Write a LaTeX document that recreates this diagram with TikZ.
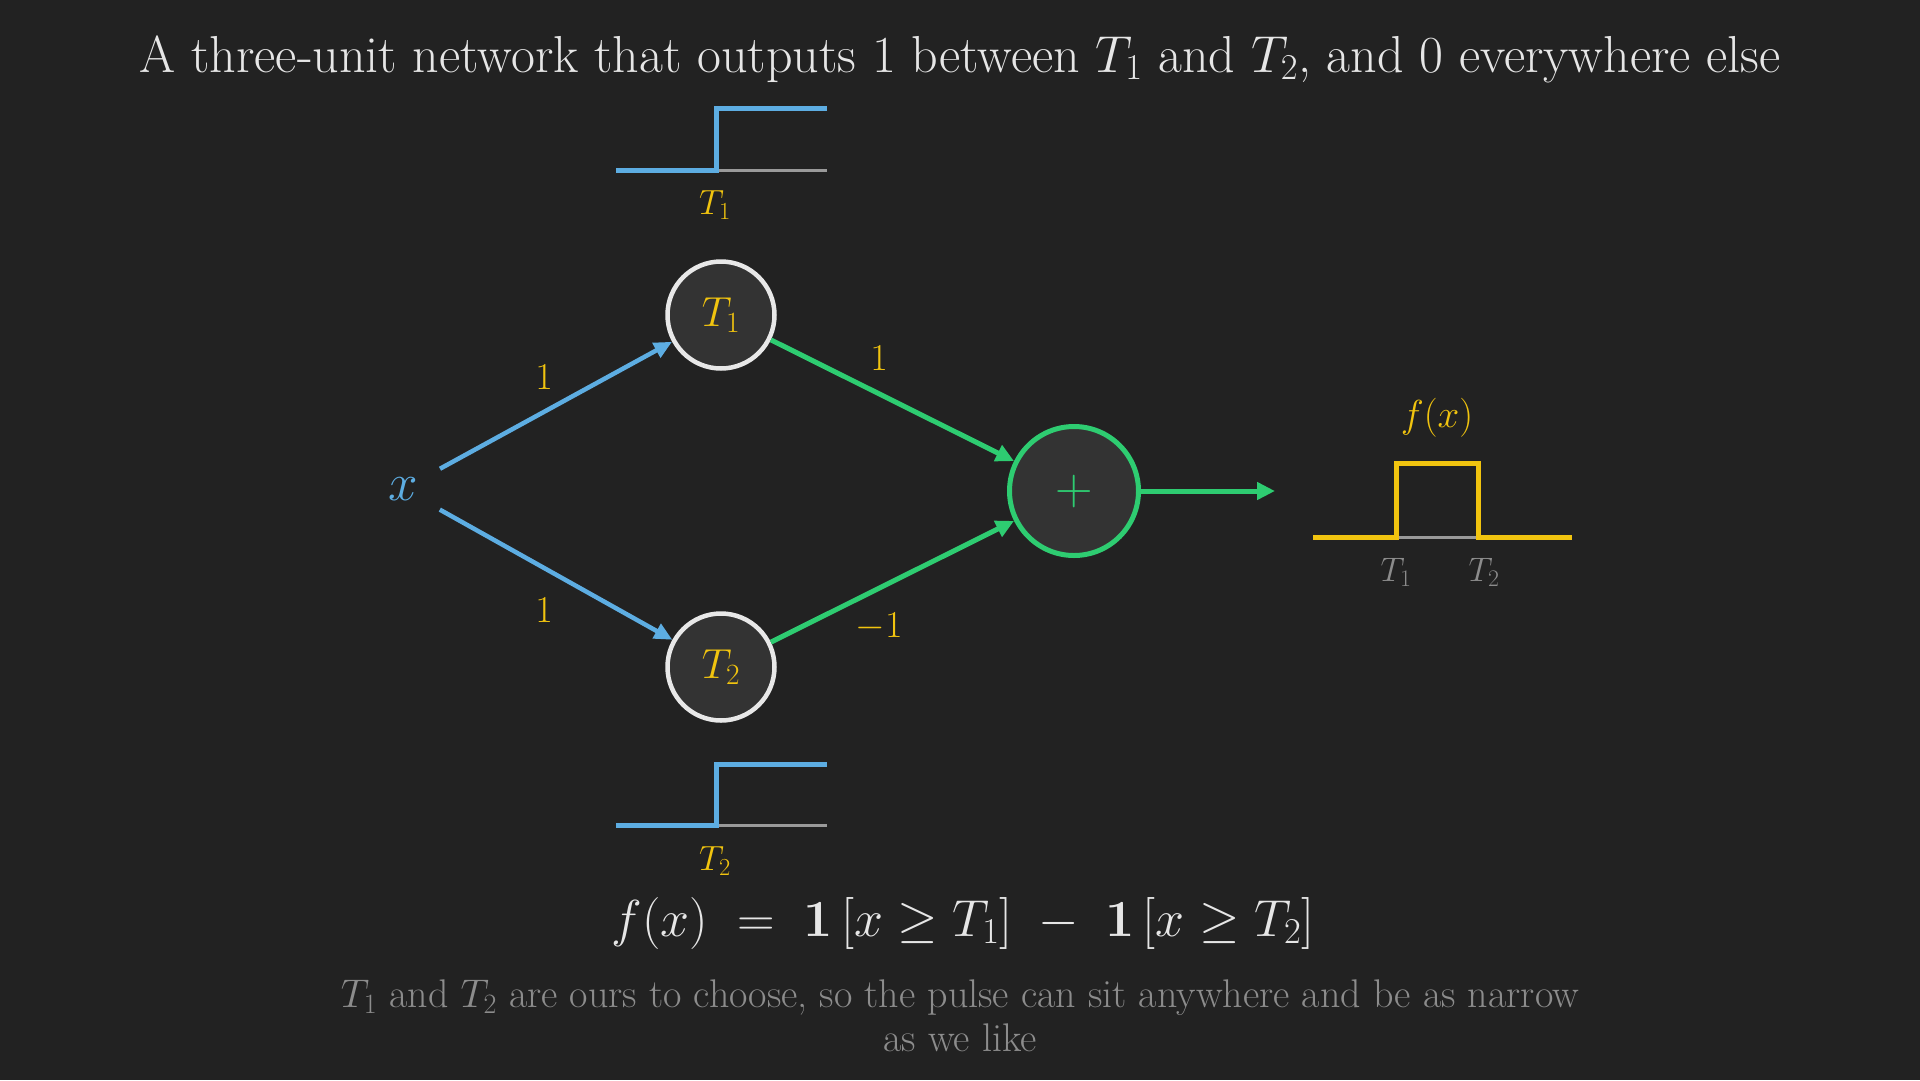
\RequirePackage{fix-cm}
\documentclass[tikz,border=0pt]{standalone}
\usetikzlibrary{arrows.meta}
\definecolor{bg}{HTML}{222222}
\definecolor{nodefill}{HTML}{333333}
\definecolor{cblue}{HTML}{5DADE2}
\definecolor{cgreen}{HTML}{2ECC71}
\definecolor{cyellow}{HTML}{F1C40F}
\definecolor{cwhite}{HTML}{E8E8E8}
\definecolor{cgray}{HTML}{8C8C8C}
\definecolor{cline}{HTML}{9A9A9A}
\definecolor{ctext}{HTML}{E6E6E6}
\tikzset{
  neuron/.style={circle, draw=cwhite, fill=nodefill, line width=4.5pt, minimum size=107pt, inner sep=0pt, text=cyellow, font=\fontsize{42}{50}\selectfont},
  sumnode/.style={circle, draw=cgreen, fill=nodefill, line width=5pt, minimum size=129pt, inner sep=0pt, text=cgreen, font=\fontsize{52}{60}\selectfont},
  bluearrow/.style={draw=cblue, line width=4.5pt, -{Triangle[length=18pt,width=16pt]}},
  greenarrow/.style={draw=cgreen, line width=5pt, -{Triangle[length=18pt,width=17pt]}},
  wlabel/.style={text=cyellow, font=\fontsize{38}{45}\selectfont},
  plotlbl/.style={text=cyellow, font=\fontsize{35}{42}\selectfont},
  graylbl/.style={text=cgray, font=\fontsize{34}{40}\selectfont},
  stepline/.style={line width=5pt, line join=miter},
  baseline/.style={draw=cline, line width=3pt},
}
\begin{document}
\begin{tikzpicture}[x=1pt,y=-1pt]
\fill[bg] (0,0) rectangle (1920,1080);
\useasboundingbox (0,0) rectangle (1920,1080);

% title
\node[text=ctext, font=\fontsize{52}{62}\selectfont] (title) at (960,59)
  {A three-unit network that outputs 1 between $T_1$ and $T_2$, and 0 everywhere else};

% top step plot
\draw[baseline] (716,170) -- (827,170);
\draw[stepline, draw=cblue] (616,170) -- (716,170) -- (716,108) -- (827,108);
\node[plotlbl] (lblT1) at (715,205) {$T_1$};

% bottom step plot
\draw[baseline] (716,825) -- (827,825);
\draw[stepline, draw=cblue] (616,825) -- (716,825) -- (716,764) -- (827,764);
\node[plotlbl] (lblT2) at (715,861) {$T_2$};

% nodes
\node[circle, minimum size=84pt, inner sep=0pt, text=cblue, font=\fontsize{53}{62}\selectfont] (x) at (403,489) {$x$};
\node[neuron] (T1) at (721,315) {$T_1$};
\node[neuron] (T2) at (721,667) {$T_2$};
\node[sumnode] (sum) at (1074,491) {$+$};
\coordinate (out) at (1275,491);

% connectors
\draw[bluearrow] (x) -- (T1);
\draw[bluearrow] (x) -- (T2);
\draw[greenarrow] (T1) -- (sum);
\draw[greenarrow] (T2) -- (sum);
\draw[greenarrow] (sum) -- (out);

% weights
\node[wlabel] (w1) at (544,377) {$1$};
\node[wlabel] (w2) at (544,610) {$1$};
\node[wlabel] (w3) at (879,358) {$1$};
\node[wlabel] (w4) at (879,627) {$-1$};

% pulse plot
\draw[baseline] (1396,537) -- (1478,537);
\draw[stepline, draw=cyellow] (1313,537) -- (1396,537) -- (1396,463) -- (1478,463) -- (1478,537) -- (1572,537);
\node[plotlbl, font=\fontsize{39}{46}\selectfont] (fx) at (1437,418) {$f(x)$};
\node[graylbl] (pT1) at (1396,572) {$T_1$};
\node[graylbl] (pT2) at (1484,572) {$T_2$};

% equation
\node[text=ctext, font=\fontsize{52}{62}\selectfont] (eq) at (963,923)
  {$f(x)\;=\;\mathbf{1}\,[x \ge T_1]\;-\;\mathbf{1}\,[x \ge T_2]$};

% caption
\node[text=cgray, font=\fontsize{40}{44}\selectfont, align=center] (cap) at (960,1016)
  {$T_1$ and $T_2$ are ours to choose, so the pulse can sit anywhere and be as narrow\\as we like};
\end{tikzpicture}
\end{document}
